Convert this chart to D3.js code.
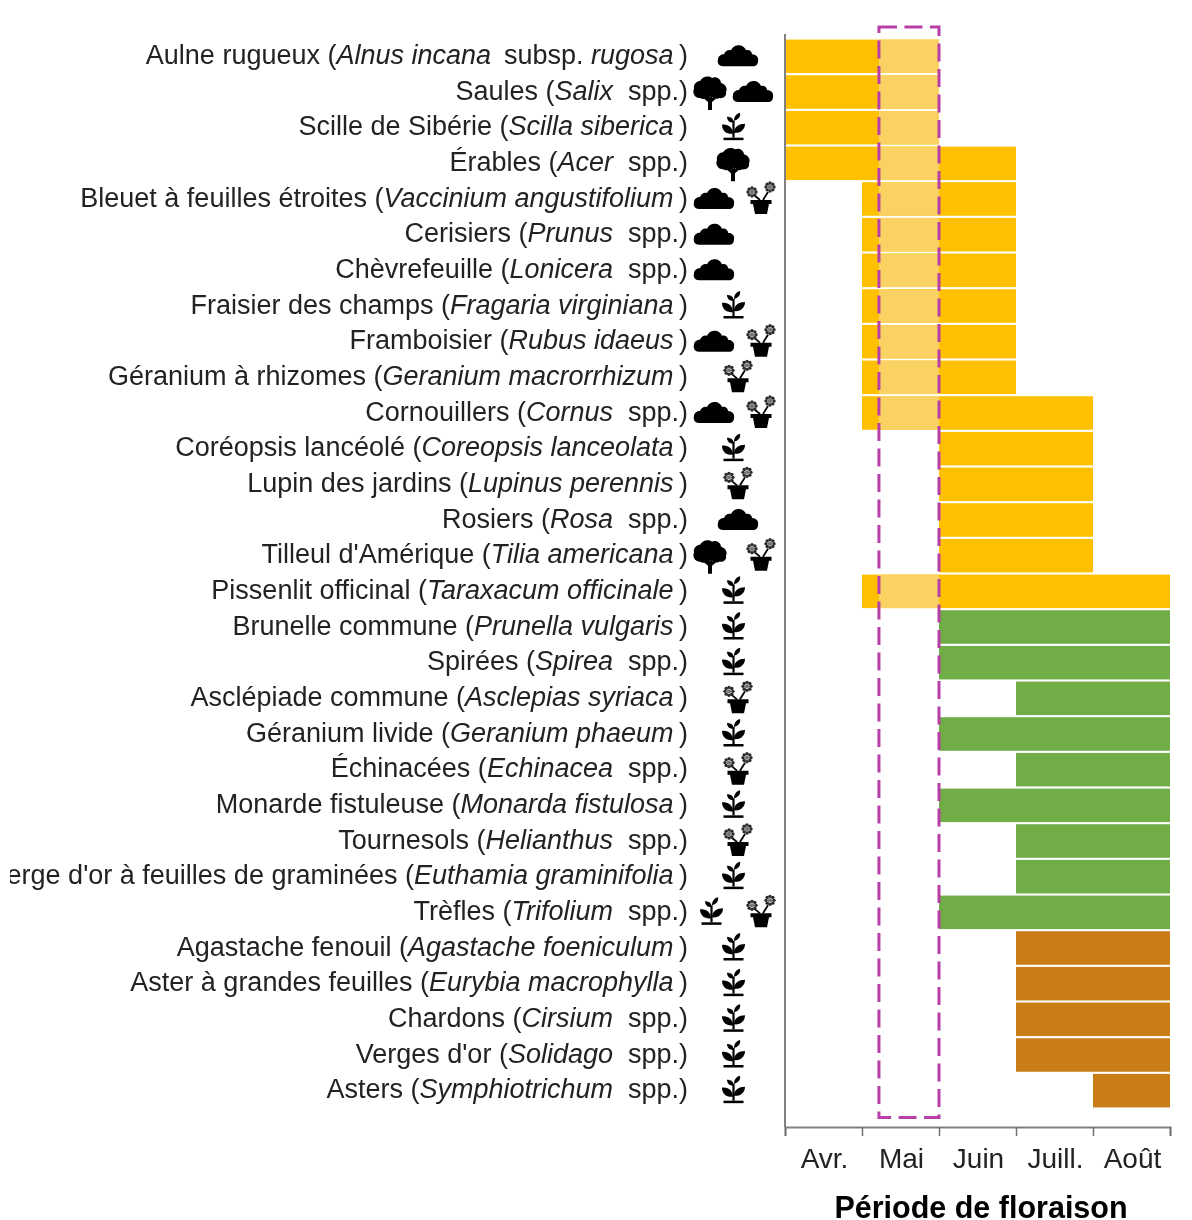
<!DOCTYPE html>
<html>
<head>
<meta charset="utf-8">
<script src="https://cdn.jsdelivr.net/npm/d3@7"></script>
<style>
html, body { margin:0; padding:0; background:#fff; }
svg { display:block; }
text { font-family:"Liberation Sans", Arial, sans-serif; }
.name { font-size:27px; fill:#222; }
.month { font-size:28px; fill:#222; }
.title { font-size:30.5px; font-weight:bold; fill:#000; }
</style>
</head>
<body>
<svg id="chart"></svg>
<script>
var names = [
  "Aulne rugueux","Saules","Scille de Sibérie","Érables","Bleuet à feuilles étroites",
  "Cerisiers","Chèvrefeuille","Fraisier des champs","Framboisier","Géranium à rhizomes",
  "Cornouillers","Coréopsis lancéolé","Lupin des jardins","Rosiers","Tilleul d'Amérique",
  "Pissenlit officinal","Brunelle commune","Spirées","Asclépiade commune","Géranium livide",
  "Échinacées","Monarde fistuleuse","Tournesols","Verge d'or à feuilles de graminées","Trèfles",
  "Agastache fenouil","Aster à grandes feuilles","Chardons","Verges d'or","Asters"
];
var latin = [
  "Alnus incana","Salix","Scilla siberica","Acer","Vaccinium angustifolium",
  "Prunus","Lonicera","Fragaria virginiana","Rubus idaeus","Geranium macrorrhizum",
  "Cornus","Coreopsis lanceolata","Lupinus perennis","Rosa","Tilia americana",
  "Taraxacum officinale","Prunella vulgaris","Spirea","Asclepias syriaca","Geranium phaeum",
  "Echinacea","Monarda fistulosa","Helianthus","Euthamia graminifolia","Trifolium",
  "Agastache foeniculum","Eurybia macrophylla","Cirsium","Solidago","Symphiotrichum"
];
var months = ["Avr.","Mai","Juin","Juill.","Août"];
// flowering, in months since start of April
var starts = [0,0,0,0,1,1,1,1,1,1,1,2,2,2,2,1,2,2,3,2,3,2,3,3,2,3,3,3,3,4];
var ends   = [2,2,2,3,3,3,3,3,3,3,4,4,4,4,4,5,5,5,5,5,5,5,5,5,5,5,5,5,5,5];
var groups = ["spring","spring","spring","spring","spring","spring","spring","spring","spring","spring",
  "spring","spring","spring","spring","spring","spring","summer","summer","summer","summer",
  "summer","summer","summer","summer","summer","fall","fall","fall","fall","fall"];
var icons = [
  ["cloud"],["tree","cloud"],["herb"],["tree"],["cloud","pot"],
  ["cloud",null],["cloud",null],["herb"],["cloud","pot"],["pot"],
  ["cloud","pot"],["herb"],["pot"],["cloud"],["tree","pot"],
  ["herb"],["herb"],["herb"],["pot"],["herb"],
  ["pot"],["herb"],["pot"],["herb"],["herb","pot"],
  ["herb"],["herb"],["herb"],["herb"],["herb"]
];
// the highlighted part of May
var highlight = [1.22, 2];

var screen = {width:1192, height:1220};
var plot = {left:785, right:1170, top:38.5, bottom:1108.5, axis:1127};

var colors = {spring:"#FFC000", summer:"#70AD47", fall:"#C87D18"};
var lightSpring = "#F9D263";

var svg = d3.select("#chart").attr("width", screen.width).attr("height", screen.height);

var defs = svg.append("defs");
defs.append("clipPath").attr("id","labelclip")
  .append("rect").attr("x",10).attr("y",0).attr("width",690).attr("height",screen.height);
defs.append("filter").attr("id","soft").attr("filterUnits","userSpaceOnUse")
  .attr("x",0).attr("y",0).attr("width",screen.width).attr("height",screen.height)
  .append("feGaussianBlur").attr("stdDeviation",0.55);

var root = svg.append("g").attr("filter","url(#soft)");

var xScale = d3.scaleLinear().domain([0,5]).range([plot.left, plot.right]);
var yScale = d3.scaleBand().domain(d3.range(names.length)).range([plot.top, plot.bottom]).paddingInner(0.06).paddingOuter(0.03);

// bars
var rows = d3.range(names.length);
var bars = root.append("g");
bars.selectAll("rect.bar").data(rows).enter().append("rect")
  .attr("class","bar")
  .attr("x", function(i){return xScale(starts[i])})
  .attr("y", function(i){return yScale(i)})
  .attr("width", function(i){return xScale(ends[i])-xScale(starts[i])})
  .attr("height", yScale.bandwidth())
  .attr("fill", function(i){return colors[groups[i]]});

// May part is paler
bars.selectAll("rect.pale").data(rows.filter(function(i){return starts[i]<highlight[1] && ends[i]>highlight[0]}))
  .enter().append("rect")
  .attr("class","pale")
  .attr("x", function(i){return xScale(Math.max(starts[i],highlight[0]))})
  .attr("y", function(i){return yScale(i)})
  .attr("width", function(i){return xScale(highlight[1])-xScale(Math.max(starts[i],highlight[0]))})
  .attr("height", yScale.bandwidth())
  .attr("fill", lightSpring);

// axes
var xAxis = d3.axisBottom(xScale).tickValues(d3.range(0,6)).tickSize(9).tickFormat("");
var axis = root.append("g").attr("transform","translate(0,"+plot.axis+")").call(xAxis);
axis.select(".domain").attr("stroke","#808080").attr("stroke-width",2);
axis.selectAll("line").attr("stroke","#707070").attr("stroke-width",1.5);
root.append("line").attr("x1",plot.left).attr("x2",plot.left).attr("y1",34).attr("y2",plot.axis)
  .attr("stroke","#808080").attr("stroke-width",2);

root.selectAll("text.month").data(months).enter().append("text")
  .attr("class","month")
  .attr("text-anchor","middle")
  .attr("x", function(d,i){return xScale(i+0.5)+1})
  .attr("y", 1167.5)
  .text(function(d){return d});

root.append("text").attr("class","title").attr("text-anchor","middle")
  .attr("x",981).attr("y",1218).text("Période de floraison");

// dashed box round May
root.append("rect")
  .attr("x", xScale(highlight[0])).attr("y",27)
  .attr("width", xScale(highlight[1])-xScale(highlight[0])).attr("height",1090.5)
  .attr("fill","none").attr("stroke","#B63FA6").attr("stroke-width",3)
  .attr("stroke-dasharray","18 7.5");

// row labels
var labels = root.append("g").attr("clip-path","url(#labelclip)");
var label = labels.selectAll("text.name").data(rows).enter().append("text")
  .attr("class","name")
  .attr("text-anchor","end")
  .attr("x",688)
  .attr("y", function(i){return yScale(i)+yScale.bandwidth()/2+7.5})
  .style("white-space","pre");
label.append("tspan").text(function(i){return names[i]+" ("});
label.append("tspan").attr("font-style","italic").text(function(i){return latin[i]});
label.filter(function(i){return i==0}).append("tspan").text(" \u2009subsp. ");
label.filter(function(i){return i==0}).append("tspan").attr("font-style","italic").text("rugosa");
label.append("tspan").text(function(i){
  if(i==0) return "\u2009)";
  return latin[i].indexOf(" ")<0 ? "  spp.)" : "\u2009)";
});

// growth form pictograms
var drawIcon = {
  cloud: function(g){
    g.append("path").attr("d","M-15,11 C-19,11 -21,8 -20,4 C-20,1 -17,-1 -14,-1 C-13,-4 -10,-6 -7,-5 C-5,-9 -2,-10 1,-10 C4,-10 7,-8 8,-5 C11,-6 14,-4 14,-1 C18,-1 21,2 20,6 C20,9 18,11 15,11 Z");
  },
  tree: function(g){
    g.append("path").attr("d","M-2,19 L-2,11 L-9,5 L-7,4 L-2,7 L-3,3 L-1,3 L0,7 L1,3 L3,3 L2,7 L7,4 L9,5 L2,11 L2,19 Z");
    g.append("path").attr("d","M-10,7 C-15,7 -18,2 -16,-2 C-17,-7 -13,-10 -10,-10 C-8,-14 -2,-16 2,-13 C6,-15 11,-12 11,-8 C15,-7 18,-3 16,1 C17,5 13,8 9,7 C6,9 3,7 1,5 C-2,8 -7,9 -10,7 Z");
  },
  herb: function(g){
    g.append("rect").attr("x",-10.5).attr("y",12).attr("width",20).attr("height",2.5);
    g.append("path").attr("d","M-1.6,12 L-1.6,-5 L0.6,-5 L0.6,12 Z");
    g.append("path").attr("d","M-1,8 C-6,9 -12,6 -12,-1 C-6,-2 -1,2 -1,8 Z");
    g.append("path").attr("d","M0,7 C0,1 5,-2 11,-2 C11,4 6,8 0,7 Z");
    g.append("path").attr("d","M-0.5,-3 C-5,-3 -7,-6 -7,-9 C-3,-9 0,-7 -0.5,-3 Z");
    g.append("path").attr("d","M0,-5 C0,-9 2,-12 6,-13 C7,-9 4,-6 0,-5 Z");
  },
  pot: function(g){
    g.append("path").attr("d","M-10.5,2 L10.5,2 L10.5,6 L8,6 L6,16 L-6,16 L-8,6 L-10.5,6 Z");
    g.append("path").attr("d","M-1,2 L-7,-3 M2,2 L7,-6").attr("stroke","#000").attr("stroke-width",1.8).attr("fill","none");
    [[-9,-6],[9,-11]].forEach(function(f){
      d3.range(8).forEach(function(k){
        var a = k*Math.PI/4;
        g.append("circle").attr("cx",f[0]+Math.cos(a)*4).attr("cy",f[1]+Math.sin(a)*4).attr("r",1.7).attr("fill","#2a2a2a");
      });
      g.append("circle").attr("cx",f[0]).attr("cy",f[1]).attr("r",2.2).attr("fill","#777");
    });
  }
};
// one icon sits in the middle column, two sit left and right
var singleX = {cloud:738, tree:733, herb:734, pot:738};
var pairX = {cloud:714, tree:710, herb:712, pot:761};
var iconOffset = {cloud:-1, tree:-1, herb:-2, pot:-1};
var iconG = root.append("g");
rows.forEach(function(i){
  var list = icons[i];
  list.forEach(function(kind,k){
    if(!kind) return;
    var x;
    if(list.length==1) x = singleX[kind];
    else if(k==0) x = pairX[kind];
    else x = kind=="cloud" ? 753 : pairX[kind];
    var g = iconG.append("g").attr("fill","#000")
      .attr("transform","translate("+x+","+(yScale(i)+yScale.bandwidth()/2+iconOffset[kind])+")");
    drawIcon[kind](g);
  });
});
</script>
</body>
</html>
